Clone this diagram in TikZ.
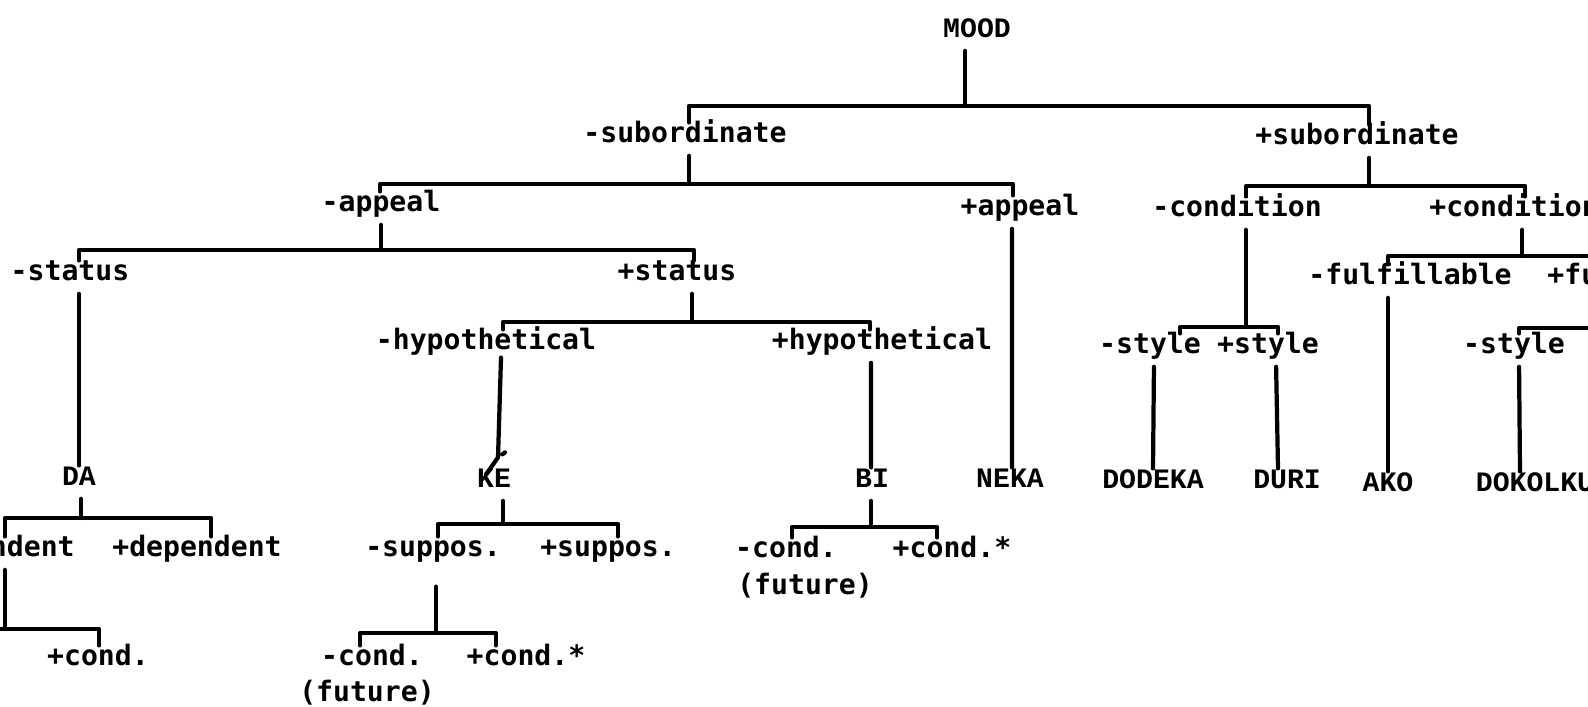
\documentclass[tikz,border=0pt]{standalone}
\usepackage{fontspec}
\usepackage{tikz}
\newfontfamily\typefont{DejaVu Sans Mono}
\newfontfamily\capsfont{Liberation Mono}

\begin{document}
\begin{tikzpicture}[
  x=0.01cm, y=-0.01cm,
  feat/.style={font=\typefont\bfseries\fontsize{8pt}{9pt}\selectfont, inner sep=0pt, text height=5.4pt, text depth=2.2pt},
  form/.style={feat, font=\capsfont\bfseries\fontsize{8pt}{9pt}\selectfont},
  edge/.style={line width=1.2pt, line cap=round, line join=round},
  stem/.style={edge, shorten <=1.5pt},
]
  \useasboundingbox (0,0) rectangle (1588,706);
  \clip (0,0) rectangle (1588,706);

  \begin{scope}[yshift=-0.035cm]
  \node[form] (mood) at (977,28) {MOOD};
  \node[feat] (subneg) at (685,133) {-subordinate};
  \node[feat] (subpos) at (1357,135) {+subordinate};
  \node[feat] (appneg) at (381,202) {-appeal};
  \node[feat] (apppos) at (1020,206) {+appeal};
  \node[feat] (condneg) at (1237,207) {-condition};
  \node[feat] (condpos) at (1514,207) {+condition};
  \node[feat] (statneg) at (70,271) {-status};
  \node[feat] (statpos) at (677,271) {+status};
  \node[feat] (fulneg) at (1410,275) {-fulfillable};
  \node[feat] (fulpos) at (1649,275) {+fulfillable};
  \node[feat] (hypneg) at (486,340) {-hypothetical};
  \node[feat] (hyppos) at (882,340) {+hypothetical};
  \node[feat] (styneg) at (1150,344) {-style};
  \node[feat] (stypos) at (1268,344) {+style};
  \node[feat] (fstyneg) at (1514,344) {-style};
  \node[form] (da) at (79,476) {DA};
  \node[form] (ke) at (494,478) {KE};
  \node[form] (bi) at (872,478) {BI};
  \node[form] (neka) at (1010,478) {NEKA};
  \node[form] (dodeka) at (1153,479) {DODEKA};
  \node[form] (duri) at (1287,479) {DURI};
  \node[form] (ako) at (1388,482) {AKO};
  \node[form] (dokolku) at (1535,482) {DOKOLKU};
  \node[feat] (depneg) at (-10,547) {-dependent};
  \node[feat] (deppos) at (197,547) {+dependent};
  \node[feat] (supneg) at (433,547) {-suppos.};
  \node[feat] (suppos) at (608,547) {+suppos.};
  \node[feat] (bicneg) at (786,548) {-cond.};
  \node[feat] (bifut) at (805,585) {(future)};
  \node[feat] (bicpos) at (952,548) {+cond.*};
  \node[feat] (dacpos) at (98,656) {+cond.};
  \node[feat] (kecneg) at (372,656) {-cond.};
  \node[feat] (kefut) at (367,692) {(future)};
  \node[feat] (kecpos) at (526,656) {+cond.*};
  \end{scope}

  \coordinate (jmood) at (965,106);
  \coordinate (jsubneg) at (689,184);
  \coordinate (jsubpos) at (1369,186);
  \coordinate (jappneg) at (381,250);
  \coordinate (jstatpos) at (692,322);
  \coordinate (jcondneg) at (1246,327);
  \coordinate (jcondpos) at (1522,256);
  \coordinate (jfulpos) at (1660,328);
  \coordinate (jda) at (81,518);
  \coordinate (jdepneg) at (5,629);
  \coordinate (depleft) at (-40,629);
  \coordinate (jke) at (503,524);
  \coordinate (jsupneg) at (436,633);
  \coordinate (jbi) at (871,527);

  \draw[stem] (mood.south -| jmood) -- (jmood);
  \draw[edge] ([xshift=0.04cm]subneg.north) |- (jmood) -| ([xshift=0.12cm]subpos.north);
  \draw[stem] (subneg.south -| jsubneg) -- (jsubneg);
  \draw[edge] ([xshift=-0.01cm]appneg.north) |- (jsubneg) -| ([xshift=-0.07cm]apppos.north);
  \draw[stem] (subpos.south -| jsubpos) -- (jsubpos);
  \draw[edge] ([xshift=0.09cm]condneg.north) |- (jsubpos) -| ([xshift=0.11cm]condpos.north);
  \draw[stem] (appneg.south -| jappneg) -- (jappneg);
  \draw[edge] ([xshift=0.09cm]statneg.north) |- (jappneg) -| ([xshift=0.17cm]statpos.north);
  \draw[stem] ([xshift=-0.08cm]apppos.south) -- ([xshift=0.02cm]neka.north);
  \draw[stem] (condneg.south -| jcondneg) -- (jcondneg);
  \draw[edge] ([xshift=0.3cm]styneg.north) |- (jcondneg) -| ([xshift=0.1cm]stypos.north);
  \draw[stem] (condpos.south -| jcondpos) -- (jcondpos);
  \draw[edge] ([xshift=-0.22cm]fulneg.north) |- (jcondpos) -| (fulpos.north);
  \draw[stem] (statneg.south -| da.north) -- (da.north);
  \draw[stem] (statpos.south -| jstatpos) -- (jstatpos);
  \draw[edge] ([xshift=0.17cm]hypneg.north) |- (jstatpos) -| ([xshift=-0.12cm]hyppos.north);
  \draw[stem] (fulneg.south -| ako.north) -- (ako.north);
  \draw[stem] (fulpos.south -| jfulpos) -- (jfulpos);
  \draw[edge] ([xshift=0.05cm]fstyneg.north) |- (jfulpos);
  \draw[stem] ([xshift=0.15cm]hypneg.south) -- ([xshift=0.04cm,yshift=0.1cm]ke.north) coordinate (kefork)
    -- ([xshift=-0.08cm,yshift=-0.07cm]ke.north)
    (kefork) -- ([xshift=0.11cm,yshift=0.15cm]ke.north);
  \draw[stem] ([xshift=-0.11cm]hyppos.south) -- ([xshift=-0.01cm]bi.north);
  \draw[stem] ([xshift=0.04cm]styneg.south) -- (dodeka.north);
  \draw[stem] ([xshift=0.08cm]stypos.south) -- ([xshift=-0.09cm]duri.north);
  \draw[stem] ([xshift=0.05cm]fstyneg.south) -- ([xshift=-0.15cm]dokolku.north);
  \draw[stem] (da.south -| jda) -- (jda);
  \draw[edge] ([xshift=0.15cm]depneg.north) |- (jda) -| ([xshift=0.14cm]deppos.north);
  \draw[stem] (depneg.south -| jdepneg) -- (jdepneg);
  \draw[edge] (depleft) -- (jdepneg) -| ([xshift=0.01cm]dacpos.north);
  \draw[stem] (ke.south -| jke) -- (jke);
  \draw[edge] ([xshift=0.05cm]supneg.north) |- (jke) -| ([xshift=0.1cm]suppos.north);
  \draw[stem, shorten <=0.22cm] (supneg.south -| jsupneg) -- (jsupneg);
  \draw[edge] ([xshift=-0.12cm]kecneg.north) |- (jsupneg) -| ([xshift=-0.3cm]kecpos.north);
  \draw[stem] (bi.south -| jbi) -- (jbi);
  \draw[edge] ([xshift=0.06cm]bicneg.north) |- (jbi) -| ([xshift=-0.15cm]bicpos.north);
\end{tikzpicture}
\end{document}
